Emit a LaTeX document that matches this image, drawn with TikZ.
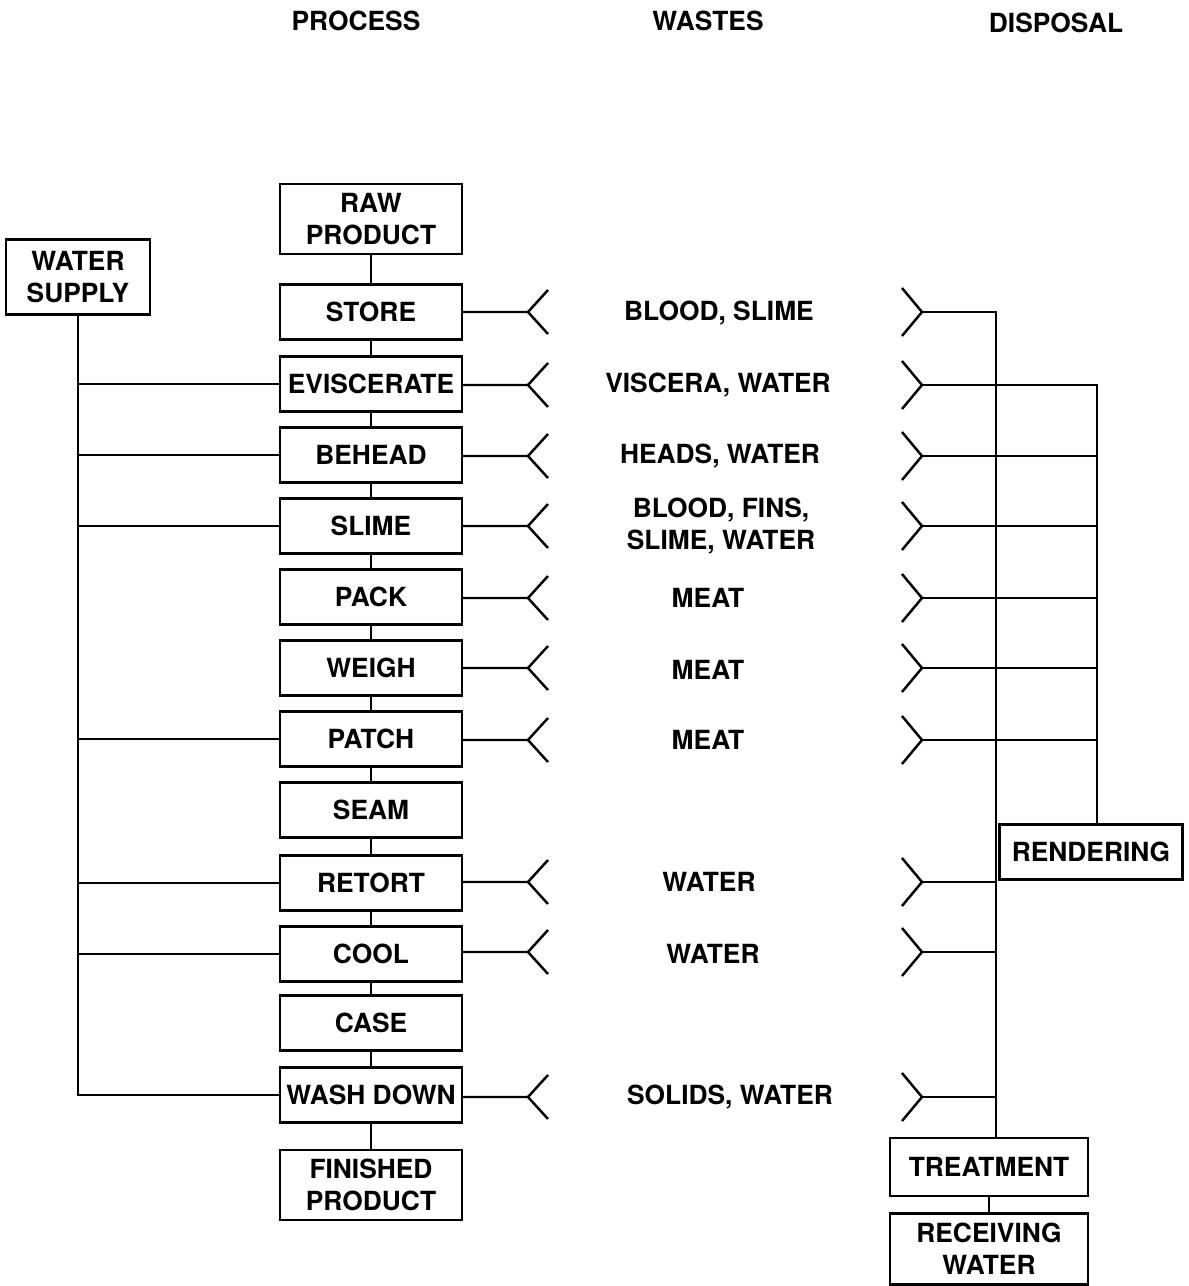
\documentclass[tikz,border=0pt]{standalone}
\usepackage{fontspec}
\setmainfont{TeX Gyre Heros}
\usetikzlibrary{positioning,calc}

\begin{document}
\begin{tikzpicture}[
      x=0.02cm, y=-0.02cm,
      font=\fontsize{15}{18}\selectfont\bfseries,
      line width=1.4pt,
      box/.style={draw, align=center, inner sep=2pt, minimum width=3.64cm, minimum height=1.1cm},
      tall/.style={box, minimum height=1.4cm},
      lbl/.style={align=center, inner sep=1pt},
    ]
    \useasboundingbox (0,0) rectangle (1188,1286);

    % headings
    \node[lbl] (hp) at (356,21) {PROCESS};
    \node[lbl] (hw) at (708,21) {WASTES};
    \node[lbl] (hd) at (1056,23) {DISPOSAL};

    % process column
    \node[tall] (raw) at (371,219) {RAW\\PRODUCT};
    \node[box] (store) at (371,312) {STORE};
    \node[box] (evisc) at (371,384) {EVISCERATE};
    \node[box] (behead) at (371,455) {BEHEAD};
    \node[box] (slime) at (371,526) {SLIME};
    \node[box] (pack) at (371,597) {PACK};
    \node[box] (weigh) at (371,668) {WEIGH};
    \node[box] (patch) at (371,739) {PATCH};
    \node[box] (seam) at (371,810) {SEAM};
    \node[box] (retort) at (371,883) {RETORT};
    \node[box] (cool) at (371,954) {COOL};
    \node[box] (case) at (371,1023) {CASE};
    \node[box] (wash) at (371,1095) {WASH DOWN};
    \node[tall] (fin) at (371,1185) {FINISHED\\PRODUCT};
    \draw (raw) -- (store) -- (evisc) -- (behead) -- (slime) -- (pack) -- (weigh) -- (patch)
      -- (seam) -- (retort) -- (cool) -- (case) -- (wash) -- (fin);

    % water supply
    \node[box, minimum width=2.88cm, minimum height=1.5cm] (ws) at (78,277) {WATER\\SUPPLY};
    \draw (ws.south) -- (ws.south |- wash.west) -- (wash.west);
    \draw (ws.south |- evisc.west) -- (evisc.west);
    \draw (ws.south |- behead.west) -- (behead.west);
    \draw (ws.south |- slime.west) -- (slime.west);
    \draw (ws.south |- patch.west) -- (patch.west);
    \draw (ws.south |- retort.west) -- (retort.west);
    \draw (ws.south |- cool.west) -- (cool.west);

    % wastes
    \node[lbl] (w1) at (719,313) {BLOOD, SLIME};
    \node[lbl] (w2) at (718,385) {VISCERA, WATER};
    \node[lbl] (w3) at (720,456) {HEADS, WATER};
    \node[lbl] (w4) at (721,526) {BLOOD, FINS,\\SLIME, WATER};
    \node[lbl] (w5) at (708,598) {MEAT};
    \node[lbl] (w6) at (708,670) {MEAT};
    \node[lbl] (w7) at (708,740) {MEAT};
    \node[lbl] (w8) at (709,882) {WATER};
    \node[lbl] (w9) at (713,954) {WATER};
    \node[lbl] (w10) at (730,1097) {SOLIDS, WATER};

    \coordinate (l1) at (528,312);
    \coordinate (l2) at (528,385);
    \coordinate (l3) at (528,456);
    \coordinate (l4) at (528,526);
    \coordinate (l5) at (528,598);
    \coordinate (l6) at (528,668);
    \coordinate (l7) at (528,740);
    \coordinate (l8) at (528,882);
    \coordinate (l9) at (528,952);
    \coordinate (l10) at (528,1097);
    \draw (store.east |- l1) -- (l1) -- ++(20,-22) (l1) -- ++(20,22);
    \draw (evisc.east |- l2) -- (l2) -- ++(20,-22) (l2) -- ++(20,22);
    \draw (behead.east |- l3) -- (l3) -- ++(20,-22) (l3) -- ++(20,22);
    \draw (slime.east |- l4) -- (l4) -- ++(20,-22) (l4) -- ++(20,22);
    \draw (pack.east |- l5) -- (l5) -- ++(20,-22) (l5) -- ++(20,22);
    \draw (weigh.east |- l6) -- (l6) -- ++(20,-22) (l6) -- ++(20,22);
    \draw (patch.east |- l7) -- (l7) -- ++(20,-22) (l7) -- ++(20,22);
    \draw (retort.east |- l8) -- (l8) -- ++(20,-22) (l8) -- ++(20,22);
    \draw (cool.east |- l9) -- (l9) -- ++(20,-22) (l9) -- ++(20,22);
    \draw (wash.east |- l10) -- (l10) -- ++(20,-22) (l10) -- ++(20,22);

    % disposal
    \node[box, minimum width=3.66cm, minimum height=1.1cm] (rend) at (1091,852) {RENDERING};
    \node[box, minimum width=3.96cm, minimum height=1.16cm] (treat) at (989,1167) {TREATMENT};
    \node[box, minimum width=3.96cm, minimum height=1.42cm] (recv) at (989,1249) {RECEIVING\\WATER};
    \draw (treat) -- (recv);

    \coordinate (d1) at (922,312);
    \coordinate (d2) at (922,385);
    \coordinate (d3) at (922,456);
    \coordinate (d4) at (922,526);
    \coordinate (d5) at (922,598);
    \coordinate (d6) at (922,668);
    \coordinate (d7) at (922,740);
    \coordinate (d8) at (922,882);
    \coordinate (d9) at (922,952);
    \coordinate (d10) at (922,1097);
    \foreach \i in {1,...,10}
      \draw (d\i) -- ++(-20,-24) (d\i) -- ++(-20,24);

    \coordinate (tk) at (996,312);
    \coordinate (rk) at (1097,385);
    \draw (d1) -- (tk) -- (tk |- treat.north);
    \draw (d2) -- (rk) -- (rk |- rend.north);
    \draw (d3) -- (rk |- d3);
    \draw (d4) -- (rk |- d4);
    \draw (d5) -- (rk |- d5);
    \draw (d6) -- (rk |- d6);
    \draw (d7) -- (rk |- d7);
    \draw (d8) -- (tk |- d8);
    \draw (d9) -- (tk |- d9);
    \draw (d10) -- (tk |- d10);
  \end{tikzpicture}
\end{document}
